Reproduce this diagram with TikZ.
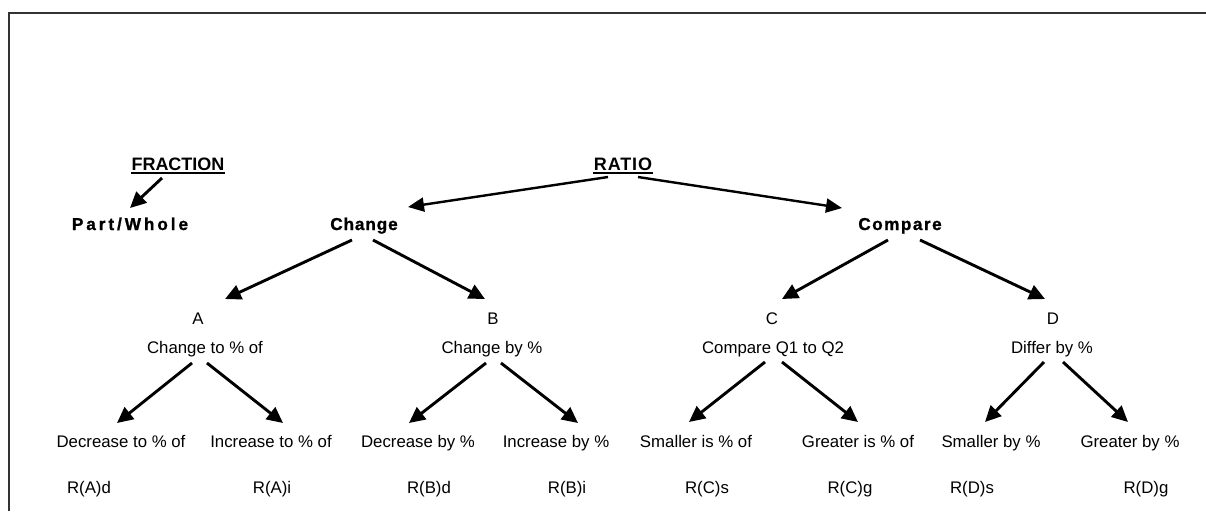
\documentclass[tikz,border=0pt]{standalone}
\usepackage{fontspec}
\setmainfont{Liberation Sans}
\newfontfamily\pwfont[LetterSpace=17,FakeBold=1.2]{Liberation Sans Bold}
\newfontfamily\cmpfont[LetterSpace=8.5,FakeBold=1.2]{Liberation Sans Bold}
\newfontfamily\chfont[LetterSpace=5,FakeBold=1.2]{Liberation Sans Bold}
\newfontfamily\rtfont[LetterSpace=5]{Liberation Sans}
\usetikzlibrary{arrows.meta}
\begin{document}
\begin{tikzpicture}[x=0.5pt,y=-0.5pt,
  txt/.style={inner sep=0pt,anchor=base,font=\fontsize{8.4}{10}\selectfont},
  head/.style={inner sep=0pt,anchor=base,font=\fontsize{9}{11}\selectfont\bfseries},
  bold/.style={inner sep=0pt,anchor=base},
  arr/.style={line width=1.45pt,-{Triangle[length=8pt,width=7.5pt]}},
  thinarr/.style={line width=1.2pt,-{Triangle[length=8pt,width=7pt]}},
  uline/.style={line width=0.9pt},
  border/.style={line width=1pt,draw=black!80}]
\useasboundingbox (0,0) rectangle (1206,511);
\draw[border] (8.5,511) -- (8.5,12.5) -- (1206,12.5);
% top level
\node[head] (fr) at (178,170) {FRACTION};
\node[head,font=\rtfont\fontsize{9}{11}\selectfont\bfseries] (ratio) at (623,170) {RATIO};
\draw[uline] ([shift={(0,3)}]fr.base west) -- ([shift={(0,3)}]fr.base east);
\draw[uline] ([shift={(0,3)}]ratio.base west) -- ([shift={(0,3)}]ratio.base east);
\node[bold,font=\pwfont\fontsize{8.6}{10}\selectfont] (pw) at (130,230) {Part/Whole};
\node[bold,font=\chfont\fontsize{8.6}{10}\selectfont] (ch) at (364,230) {Change};
\node[bold,font=\cmpfont\fontsize{8.6}{10}\selectfont] (cp) at (900,230) {Compare};
% second level
\node[txt] (la) at (198,324) {A};
\node[txt] (ta) at (205,353) {Change to \% of};
\node[txt] (lb) at (493,324) {B};
\node[txt] (tb) at (492,353) {Change by \%};
\node[txt] (lc) at (772,324) {C};
\node[txt] (tc) at (773,353) {Compare Q1 to Q2};
\node[txt] (ld) at (1053,324) {D};
\node[txt] (td) at (1052,353) {Differ by \%};
% leaves
\node[txt] (l1) at (121,447) {Decrease to \% of};
\node[txt] (l2) at (271,447) {Increase to \% of};
\node[txt] (l3) at (418,447) {Decrease by \%};
\node[txt] (l4) at (556,447) {Increase by \%};
\node[txt] (l5) at (696,447) {Smaller is \% of};
\node[txt] (l6) at (858,447) {Greater is \% of};
\node[txt] (l7) at (991,447) {Smaller by \%};
\node[txt] (l8) at (1130,447) {Greater by \%};
% codes
\node[txt] (r1) at (89,493) {R(A)d};
\node[txt] (r2) at (272,493) {R(A)i};
\node[txt] (r3) at (429,493) {R(B)d};
\node[txt] (r4) at (567,493) {R(B)i};
\node[txt] (r5) at (707,493) {R(C)s};
\node[txt] (r6) at (850,493) {R(C)g};
\node[txt] (r7) at (972,493) {R(D)s};
\node[txt] (r8) at (1146,493) {R(D)g};
% arrows
\draw[arr] ([shift={(-16,8)}]fr.base) -- ([shift={(0,-22)}]pw.base);
\draw[thinarr] ([shift={(-15,7)}]ratio.base) -- ([shift={(44,-23)}]ch.base);
\draw[thinarr] ([shift={(15,7)}]ratio.base) -- ([shift={(-58,-22)}]cp.base);
\draw[arr] ([shift={(-12,10)}]ch.base) -- ([shift={(27,-25)}]la.base);
\draw[arr] ([shift={(9,10)}]ch.base) -- ([shift={(-8,-25)}]lb.base);
\draw[arr] ([shift={(-12,10)}]cp.base) -- ([shift={(10,-25)}]lc.base);
\draw[arr] ([shift={(20,10)}]cp.base) -- ([shift={(-8,-25)}]ld.base);
\draw[arr] ([shift={(-13,10)}]ta.base) -- ([shift={(-4,-24)}]l1.base);
\draw[arr] ([shift={(2,10)}]ta.base) -- ([shift={(12,-24)}]l2.base);
\draw[arr] ([shift={(-6,10)}]tb.base) -- ([shift={(-9,-24)}]l3.base);
\draw[arr] ([shift={(9,10)}]tb.base) -- ([shift={(22,-24)}]l4.base);
\draw[arr] ([shift={(-8,9)}]tc.base) -- ([shift={(-7,-25)}]l5.base);
\draw[arr] ([shift={(9,9)}]tc.base) -- ([shift={(0,-25)}]l6.base);
\draw[arr] ([shift={(-8,9)}]td.base) -- ([shift={(-6,-25)}]l7.base);
\draw[arr] ([shift={(11,9)}]td.base) -- ([shift={(-2,-25)}]l8.base);
\end{tikzpicture}
\end{document}
